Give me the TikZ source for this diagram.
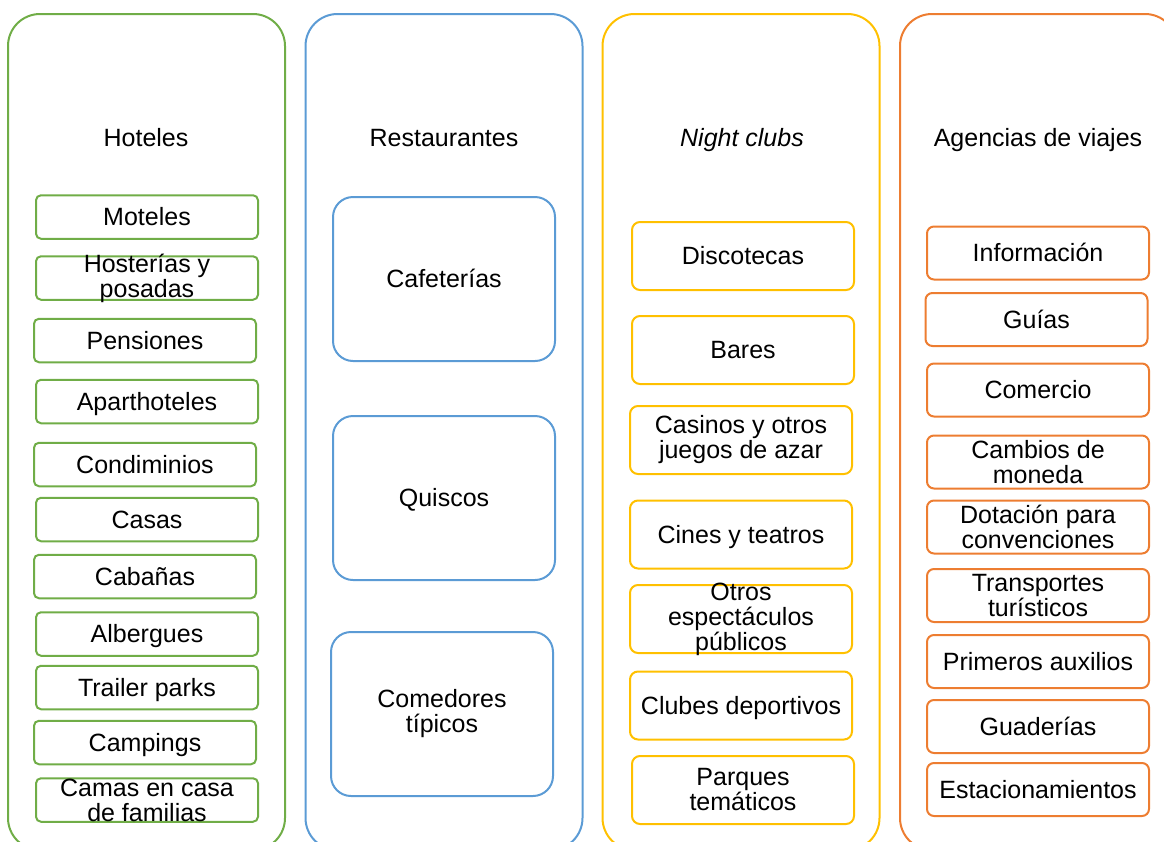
\documentclass[tikz,border=0pt]{standalone}
\usepackage{fontspec}
\setmainfont{Liberation Sans}
\usetikzlibrary{shapes}

\definecolor{hotgreen}{RGB}{112,173,71}
\definecolor{resblue}{RGB}{91,155,213}
\definecolor{clubgold}{RGB}{255,192,0}
\definecolor{agorange}{RGB}{237,125,49}

\begin{document}
\begin{tikzpicture}[x=1pt,y=-1pt]
\tikzstyle{every node}=[font=\fontsize{25}{25}\selectfont, align=center]
\tikzstyle{every label}=[font=\fontsize{25}{25}\selectfont, align=center, inner sep=0pt]
\tikzstyle{oneline}=[text height=22.6pt, text depth=5.3pt]
\tikzstyle{column}=[draw, line width=2pt, rounded corners=32pt,
	minimum width=277pt, minimum height=836pt, inner sep=0pt]
\tikzstyle{gbox}=[draw=hotgreen, line width=2pt, rounded corners=5pt,
	minimum width=222pt, minimum height=43.5pt, inner sep=0pt]
\tikzstyle{bbox}=[draw=resblue, line width=2pt, rounded corners=20pt,
	minimum width=222pt, minimum height=164pt, inner sep=0pt]
\tikzstyle{ybox}=[draw=clubgold, line width=2pt, rounded corners=8pt,
	minimum width=222pt, minimum height=68pt, inner sep=0pt]
\tikzstyle{obox}=[draw=agorange, line width=2pt, rounded corners=7pt,
	minimum width=222pt, minimum height=53pt, inner sep=0pt]
\useasboundingbox (0,0) rectangle (1164,841);
\clip (0,0) rectangle (1164,841);

% the four columns
\node[column, draw=hotgreen] (hot) at (146.5,432) {};
\node[column, draw=resblue] (res) at (444,432) {};
\node[column, draw=clubgold] (club) at (741,432) {};
\node[column, draw=agorange] (ag) at (1038.5,432) {};

\node[oneline] (hottitle) at (146,138) {Hoteles};
\node[oneline] (restitle) at (444,138) {Restaurantes};
\node[oneline] (clubtitle) at (742,138) {\textit{Night clubs}};
\node[oneline] (agtitle) at (1038,138) {Agencias de viajes};

% hoteles
\node[gbox, label={[oneline]center:Moteles}] (mot) at (147,217) {};
\node[gbox, label={center:Hosterías y\\posadas}] (hos) at (147,278) {};
\node[gbox, label={[oneline]center:Pensiones}] (pen) at (145,340.5) {};
\node[gbox, label={[oneline]center:Aparthoteles}] (apa) at (147,401.5) {};
\node[gbox, label={[oneline]center:Condiminios}] (con) at (145,464.5) {};
\node[gbox, label={[oneline]center:Casas}] (cas) at (147,519.5) {};
\node[gbox, label={[oneline]center:Cabañas}] (cab) at (145,576.5) {};
\node[gbox, label={[oneline]center:Albergues}] (alb) at (147,634) {};
\node[gbox, label={[oneline]center:Trailer parks}] (tra) at (147,687.5) {};
\node[gbox, label={[oneline]center:Campings}] (cmp) at (145,742.5) {};
\node[gbox, label={center:Camas en casa\\de familias}] (cdf) at (147,800) {};

% restaurantes
\node[bbox, label={[oneline]center:Cafeterías}] (caf) at (444,279) {};
\node[bbox, label={[oneline]center:Quiscos}] (qui) at (444,498) {};
\node[bbox, label={center:Comedores\\típicos}] (com) at (442,714) {};

% night clubs
\node[ybox, label={[oneline]center:Discotecas}] (dis) at (743,256) {};
\node[ybox, label={[oneline]center:Bares}] (bar) at (743,350) {};
\node[ybox, label={center:Casinos y otros\\juegos de azar}] (csn) at (741,440) {};
\node[ybox, label={[oneline]center:Cines y teatros}] (cin) at (741,534.5) {};
\node[ybox, label={center:Otros\\espectáculos\\públicos}] (otr) at (741,619) {};
\node[ybox, label={[oneline]center:Clubes deportivos}] (clu) at (741,705.5) {};
\node[ybox, label={center:Parques\\temáticos}] (par) at (743,790) {};

% agencias de viajes
\node[obox, label={[oneline]center:Información}] (inf) at (1038,253) {};
\node[obox, label={[oneline]center:Guías}] (gui) at (1036.5,319.5) {};
\node[obox, label={[oneline]center:Comercio}] (cme) at (1038,390) {};
\node[obox, label={center:Cambios de\\moneda}] (cmb) at (1038,462) {};
\node[obox, label={center:Dotación para\\convenciones}] (dot) at (1038,527) {};
\node[obox, label={center:Transportes\\turísticos}] (tpt) at (1038,595.5) {};
\node[obox, label={[oneline]center:Primeros auxilios}] (pri) at (1038,661.5) {};
\node[obox, label={[oneline]center:Guaderías}] (gua) at (1038,726.5) {};
\node[obox, label={[oneline]center:Estacionamientos}] (est) at (1038,789.5) {};
\end{tikzpicture}
\end{document}
